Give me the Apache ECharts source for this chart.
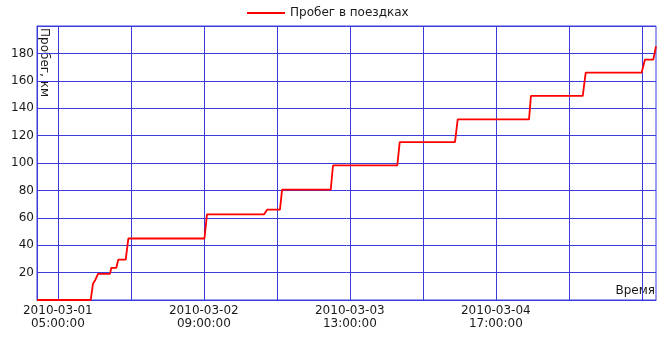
<!DOCTYPE html>
<html>
<head>
<meta charset="utf-8">
<script src="https://cdn.jsdelivr.net/npm/echarts@6/dist/echarts.min.js"></script>
<style>
  html, body { margin: 0; padding: 0; background: #ffffff; }
  #chart { width: 658px; height: 338px; }
</style>
</head>
<body>
<div id="chart"></div>
<script>
// Trip mileage log: timestamp of each reading and cumulative distance, km
const seriesName = 'Пробег в поездках';
const yAxisTitle = 'Пробег, км';
const xAxisTitle = 'Время';

const readingTimes = [
  '2010-03-01 01:00', '2010-03-01 11:18', '2010-03-01 11:44', '2010-03-01 12:07',
  '2010-03-01 12:42', '2010-03-01 15:00', '2010-03-01 15:15', '2010-03-01 16:13',
  '2010-03-01 16:35', '2010-03-01 18:01', '2010-03-01 18:31', '2010-03-02 09:07',
  '2010-03-02 09:36', '2010-03-02 20:32', '2010-03-02 21:10', '2010-03-02 23:36',
  '2010-03-03 00:00', '2010-03-03 09:20', '2010-03-03 09:46', '2010-03-03 22:06',
  '2010-03-03 22:34', '2010-03-04 09:10', '2010-03-04 09:41', '2010-03-04 23:22',
  '2010-03-04 23:44', '2010-03-05 09:40', '2010-03-05 10:14', '2010-03-05 20:58',
  '2010-03-05 21:36', '2010-03-05 23:12', '2010-03-05 23:43'
];
const mileageKm = [
  0, 0, 11.8, 14.2,
  19.1, 19.1, 23.5, 23.5,
  29.4, 29.4, 44.9, 44.9,
  62.5, 62.5, 66.0, 66.0,
  80.5, 80.5, 98.2, 98.2,
  115.3, 115.3, 131.8, 131.8,
  149.0, 149.0, 166.0, 166.0,
  175.5, 175.5, 185.2
];

// Vertical grid every 14 hours, date labels on every other line
const gridTimes = [
  '2010-03-01 05:00', '2010-03-01 19:00', '2010-03-02 09:00', '2010-03-02 23:00',
  '2010-03-03 13:00', '2010-03-04 03:00', '2010-03-04 17:00', '2010-03-05 07:00',
  '2010-03-05 21:00'
];
const labelTimes = [
  '2010-03-01 05:00', '2010-03-02 09:00', '2010-03-03 13:00', '2010-03-04 17:00'
];
const timeRange = ['2010-03-01 01:00', '2010-03-05 23:43'];

function parseTime(s) {
  const [d, t] = s.split(' ');
  const [y, mo, da] = d.split('-').map(Number);
  const [h, mi] = t.split(':').map(Number);
  return Date.UTC(y, mo - 1, da, h, mi);
}
function pad(n) { return String(n).padStart(2, '0'); }
function formatTime(ms) {
  const dt = new Date(ms);
  return dt.getUTCFullYear() + '-' + pad(dt.getUTCMonth() + 1) + '-' + pad(dt.getUTCDate()) +
    '\n' + pad(dt.getUTCHours()) + ':' + pad(dt.getUTCMinutes()) + ':' + pad(dt.getUTCSeconds());
}

const FONT = 'DejaVu Sans';
const GRID_BLUE = '#3c3cdc';
const TEXT = '#1a1a1a';

const chart = echarts.init(document.getElementById('chart'), null, { renderer: 'canvas' });

chart.setOption({
  backgroundColor: '#ffffff',
  animation: false,
  textStyle: { fontFamily: FONT },
  legend: {
    data: [{ name: seriesName, icon: 'rect' }],
    left: 247,
    top: 6,
    padding: 0,
    itemWidth: 38,
    itemHeight: 2,
    itemStyle: { color: '#ff0000' },
    textStyle: { fontFamily: FONT, fontSize: 12, color: TEXT, lineHeight: 14 }
  },
  grid: {
    left: 37,
    right: 2,
    top: 26,
    bottom: 38,
    show: true,
    borderColor: GRID_BLUE,
    borderWidth: 1,
    backgroundColor: 'transparent'
  },
  xAxis: {
    type: 'value',
    min: parseTime(timeRange[0]),
    max: parseTime(timeRange[1]),
    axisLine: { show: true, lineStyle: { color: GRID_BLUE, width: 1 } },
    axisTick: { show: false, customValues: gridTimes.map(parseTime) },
    splitLine: { show: true, lineStyle: { color: GRID_BLUE, width: 1 } },
    axisLabel: {
      customValues: labelTimes.map(parseTime),
      formatter: v => formatTime(v),
      fontFamily: FONT,
      fontSize: 12,
      lineHeight: 13,
      color: TEXT,
      margin: 4,
      showMinLabel: true,
      showMaxLabel: true
    }
  },
  yAxis: {
    type: 'value',
    min: 0,
    max: 200,
    interval: 20,
    axisLine: { show: true, lineStyle: { color: GRID_BLUE, width: 1 } },
    axisTick: { show: false },
    splitLine: { show: true, lineStyle: { color: GRID_BLUE, width: 1 } },
    axisLabel: {
      formatter: v => (v === 0 || v === 200) ? '' : String(v),
      fontFamily: FONT,
      fontSize: 12,
      color: TEXT,
      margin: 3
    }
  },
  graphic: [
    {
      type: 'text',
      left: 38,
      top: 28,
      rotation: -Math.PI / 2,
      style: { text: yAxisTitle, fontFamily: FONT, fontSize: 12, fill: TEXT }
    },
    {
      type: 'text',
      right: 3,
      top: 285,
      style: { text: xAxisTitle, fontFamily: FONT, fontSize: 12, fill: TEXT }
    }
  ],
  series: [
    {
      name: seriesName,
      type: 'line',
      symbol: 'none',
      smooth: false,
      lineStyle: { color: '#ff0000', width: 1.8 },
      itemStyle: { color: '#ff0000' },
      data: readingTimes.map((t, i) => [parseTime(t), mileageKm[i]])
    }
  ]
});
</script>
</body>
</html>
